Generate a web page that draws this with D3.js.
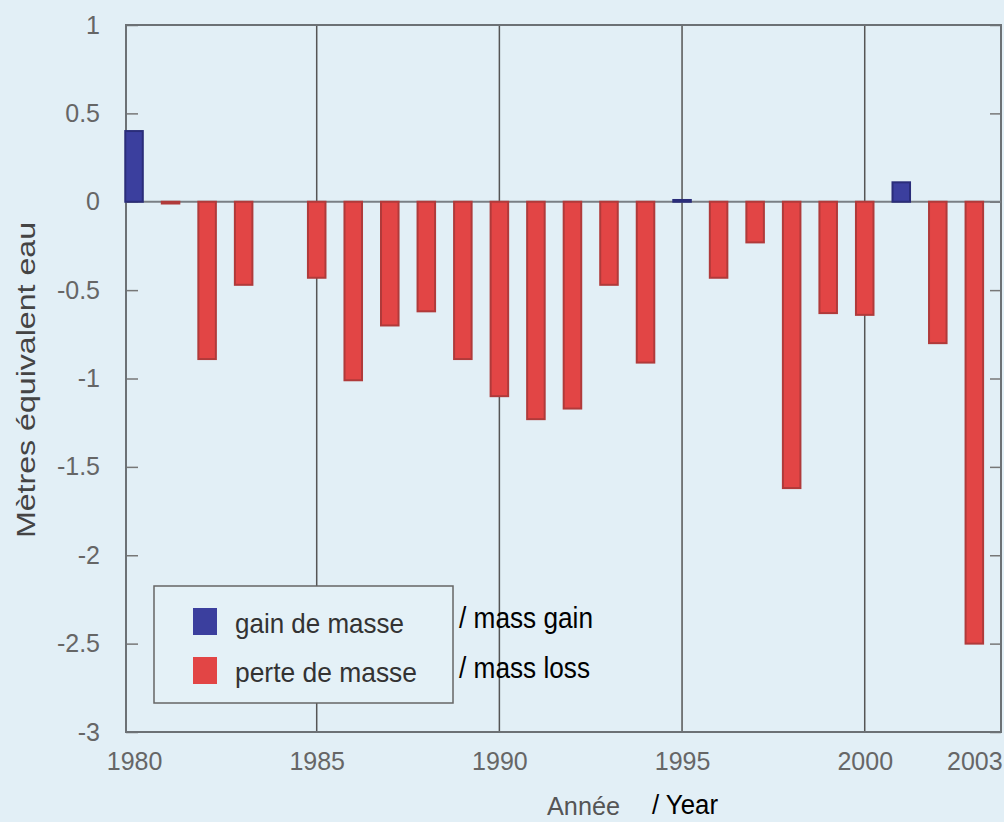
<!DOCTYPE html>
<meta charset="utf-8">
<style>

body {
  margin: 0;
  background: #e2eff6;
}

.axis text {
  font: 25px "Liberation Sans", Arial, sans-serif;
  fill: #666;
}

.axis line {
  stroke: #777;
  stroke-width: 1.5;
}

.grid line {
  stroke: #555;
  stroke-width: 1.5;
}

.legend text {
  font: 28px "Liberation Sans", Arial, sans-serif;
  fill: #333;
}

.note {
  font-family: "Liberation Sans", Arial, sans-serif;
  fill: #000;
}

</style>
<svg width="1004" height="822"></svg>
<script src="https://d3js.org/d3.v7.min.js"></script>
<script>
// bilan de masse annuel (m équivalent eau), 1984 absent
var years  = [1980, 1981, 1982, 1983, 1985, 1986, 1987, 1988, 1989, 1990, 1991,
              1992, 1993, 1994, 1995, 1996, 1997, 1998, 1999, 2000, 2001, 2002, 2003];
var values = [0.40, -0.01, -0.89, -0.47, -0.43, -1.01, -0.70, -0.62, -0.89, -1.10, -1.23,
              -1.17, -0.47, -0.91, 0.01, -0.43, -0.23, -1.62, -0.63, -0.64, 0.11, -0.80, -2.50];

var yTicks = [1, 0.5, 0, -0.5, -1, -1.5, -2, -2.5, -3];
var xTicks = [1980, 1985, 1990, 1995, 2000, 2003];
var gridYears = [1985, 1990, 1995, 2000];

var legendLabels = ["gain de masse", "perte de masse"];
var legendNotes = ["/ mass gain", "/ mass loss"];
</script>
<script>
var svg = d3.select("svg");

var x = d3.scaleLinear()
    .domain([1979.78, 2003.73])
    .range([126, 1001]);

var y = d3.scaleLinear()
    .domain([-3, 1])
    .range([732, 25]);

// bars are about half a year wide
var barW = x(1980.48) - x(1980);

var color = d3.scaleOrdinal()
    .domain(["gain", "perte"])
    .range(["#3b3f9e", "#e24545"]);

var stroke = d3.scaleOrdinal()
    .domain(["gain", "perte"])
    .range(["#2a2d7a", "#b03a3a"]);

function kind(v) { return v >= 0 ? "gain" : "perte"; }

// vertical grid lines
svg.append("g")
    .attr("class", "grid")
  .selectAll("line")
  .data(gridYears)
  .enter().append("line")
    .attr("x1", function(d) { return x(d); })
    .attr("x2", function(d) { return x(d); })
    .attr("y1", y(1))
    .attr("y2", y(-3));

// y axis
var yAxis = svg.append("g")
    .attr("class", "axis")
    .attr("transform", "translate(" + x.range()[0] + ",0)")
    .call(d3.axisLeft(y)
        .tickValues(yTicks)
        .tickSizeInner(-12)
        .tickSizeOuter(0)
        .tickPadding(26)
        .tickFormat(function(d) { return String(d); }));
yAxis.select(".domain").remove();

// right side ticks
var yAxisR = svg.append("g")
    .attr("class", "axis")
    .attr("transform", "translate(" + x.range()[1] + ",0)")
    .call(d3.axisRight(y)
        .tickValues(yTicks)
        .tickSizeInner(-11)
        .tickSizeOuter(0)
        .tickFormat(""));
yAxisR.select(".domain").remove();

// x axis
var xAxis = svg.append("g")
    .attr("class", "axis")
    .attr("transform", "translate(0," + y(-3) + ")")
    .call(d3.axisBottom(x)
        .tickValues(xTicks)
        .tickSize(0)
        .tickPadding(20)
        .tickFormat(d3.format("d")));
xAxis.select(".domain").remove();

// frame
svg.append("rect")
    .attr("x", x.range()[0])
    .attr("y", y(1))
    .attr("width", x.range()[1] - x.range()[0])
    .attr("height", y(-3) - y(1))
    .attr("fill", "none")
    .attr("stroke", "#6c7175")
    .attr("stroke-width", 2);

// zero line
svg.append("line")
    .attr("x1", x.range()[0])
    .attr("x2", x.range()[1])
    .attr("y1", y(0))
    .attr("y2", y(0))
    .attr("stroke", "#7a7f84")
    .attr("stroke-width", 2);

// bars
svg.append("g")
  .selectAll("rect")
  .data(years)
  .enter().append("rect")
    .attr("x", function(d) { return x(d) - barW / 2; })
    .attr("width", barW)
    .attr("y", function(d, i) { return y(Math.max(0, values[i])); })
    .attr("height", function(d, i) { return Math.abs(y(values[i]) - y(0)); })
    .attr("fill", function(d, i) { return color(kind(values[i])); })
    .attr("stroke", function(d, i) { return stroke(kind(values[i])); })
    .attr("stroke-width", 2);

// legend
var legend = svg.append("g")
    .attr("class", "legend");

legend.append("rect")
    .attr("x", 154)
    .attr("y", 586)
    .attr("width", 299)
    .attr("height", 117)
    .attr("fill", "#e4f1f7")
    .attr("stroke", "#666")
    .attr("stroke-width", 1.5);

var item = legend.selectAll("g.item")
  .data(color.domain())
  .enter().append("g")
    .attr("class", "item")
    .attr("transform", function(d, i) { return "translate(193," + (608 + i * 49) + ")"; });

item.append("rect")
    .attr("width", 24)
    .attr("height", 27)
    .attr("fill", function(d) { return color(d); });

item.append("text")
    .attr("x", 42)
    .attr("y", 25)
    .attr("textLength", function(d, i) { return i ? 182 : 169; })
    .attr("lengthAdjust", "spacingAndGlyphs")
    .text(function(d, i) { return legendLabels[i]; });

svg.append("g")
  .selectAll("text")
  .data(legendNotes)
  .enter().append("text")
    .attr("class", "note")
    .attr("x", 459)
    .attr("y", function(d, i) { return 628 + i * 50; })
    .attr("font-size", 29)
    .attr("textLength", function(d, i) { return i ? 131 : 134; })
    .attr("lengthAdjust", "spacingAndGlyphs")
    .text(function(d) { return d; });

// axis titles
svg.append("text")
    .attr("transform", "translate(35,380) rotate(-90)")
    .attr("text-anchor", "middle")
    .attr("font-family", "Liberation Sans, Arial, sans-serif")
    .attr("font-size", 26)
    .attr("fill", "#444")
    .attr("textLength", 316)
    .attr("lengthAdjust", "spacingAndGlyphs")
    .text("Mètres équivalent eau");

svg.append("text")
    .attr("x", 547)
    .attr("y", 815)
    .attr("font-family", "Liberation Sans, Arial, sans-serif")
    .attr("font-size", 26)
    .attr("fill", "#555")
    .attr("textLength", 73)
    .attr("lengthAdjust", "spacingAndGlyphs")
    .text("Année");

svg.append("text")
    .attr("class", "note")
    .attr("x", 652)
    .attr("y", 814)
    .attr("font-size", 27)
    .attr("textLength", 66)
    .attr("lengthAdjust", "spacingAndGlyphs")
    .text("/ Year");

</script>
